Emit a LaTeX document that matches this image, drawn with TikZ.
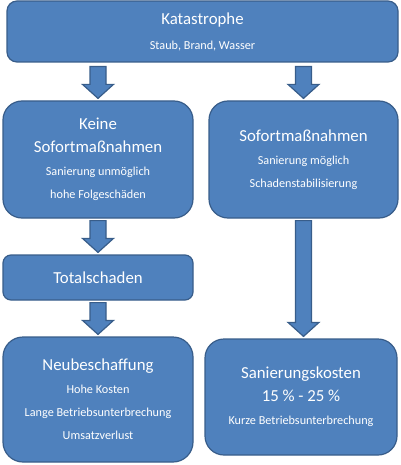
\documentclass[tikz,border=0pt]{standalone}
\usepackage{fontspec}
\setmainfont{Carlito}
\usetikzlibrary{calc}
\definecolor{boxfill}{HTML}{4F81BD}
\definecolor{boxline}{HTML}{385D8A}
\tikzset{
  box/.style={draw=boxline, fill=boxfill, line width=1.2pt, text=white, align=center,
    inner sep=0pt, font=\fontsize{12.2}{23}\selectfont},
  blockarrow/.style={draw=boxline, fill=boxfill, line width=1.2pt, line join=miter},
}
\newcommand{\bigline}[1]{{\fontsize{16.8}{23}\selectfont #1}}
\newcommand{\myblockarrow}[2]{%
  \path[blockarrow] let \p1=#1, \p2=#2 in
    (\x1-8pt,\y1) -- (\x1+8pt,\y1) -- (\x1+8pt,\y2+14pt) -- (\x1+15.5pt,\y2+14pt)
    -- (\x1,\y2) -- (\x1-15.5pt,\y2+14pt) -- (\x1-8pt,\y2+14pt) -- cycle;}
\begin{document}
\begin{tikzpicture}[x=1pt,y=-1pt]
\useasboundingbox (0,0) rectangle (400,465);
\node[box, minimum width=391pt, minimum height=61pt, rounded corners=10pt] (kat) at (202.5,31.5)
  {\bigline{Katastrophe}\\[2pt]Staub, Brand, Wasser};
\node[box, minimum width=190pt, minimum height=117pt, rounded corners=19pt] (keine) at (98,159.5)
  {\bigline{Keine}\\\bigline{Sofortmaßnahmen}\\Sanierung unmöglich\\hohe Folgeschäden};
\node[box, minimum width=189pt, minimum height=117pt, rounded corners=19pt] (sofort) at (303.5,159.5)
  {\bigline{Sofortmaßnahmen}\\Sanierung möglich\\Schadenstabilisierung};
\node[box, minimum width=190pt, minimum height=45pt, rounded corners=8pt] (total) at (98,277.5)
  {\bigline{Totalschaden}};
\node[box, minimum width=190pt, minimum height=125pt, rounded corners=20pt] (neu) at (98,399.5)
  {\bigline{Neubeschaffung}\\Hohe Kosten\\Lange Betriebsunterbrechung\\Umsatzverlust};
\node[box, minimum width=192pt, minimum height=116pt, rounded corners=19pt] (san) at (301,397)
  {\bigline{Sanierungskosten}\\\bigline{15 \% - 25 \%}\\Kurze Betriebsunterbrechung};
\myblockarrow{($(kat.south -| keine.north)+(0,-4pt)$)}{($(keine.north)+(0,2pt)$)}
\myblockarrow{($(kat.south -| sofort.north)+(0,-4pt)$)}{($(sofort.north)+(0,2pt)$)}
\myblockarrow{($(keine.south)+(0,-2pt)$)}{($(total.north)+(0,2pt)$)}
\myblockarrow{($(total.south)+(0,-2pt)$)}{($(neu.north)+(0,2pt)$)}
\myblockarrow{($(sofort.south)+(0,-2pt)$)}{($(sofort.south |- san.north)+(0,2pt)$)}
\end{tikzpicture}
\end{document}
